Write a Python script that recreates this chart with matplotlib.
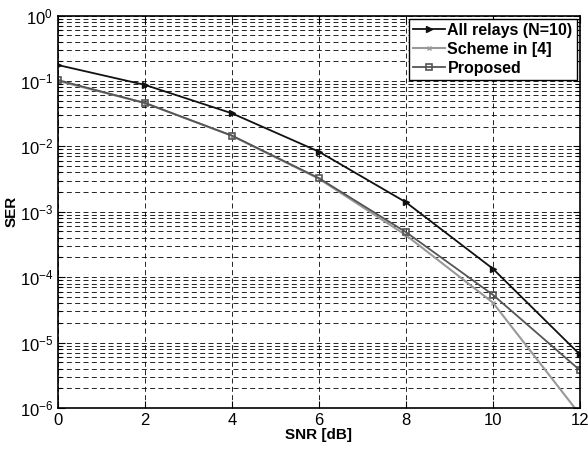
import numpy as np
import matplotlib
matplotlib.use("Agg")
import matplotlib.pyplot as plt
from matplotlib.ticker import LogLocator, NullFormatter

plt.rcParams['font.family'] = ['Liberation Sans', 'DejaVu Sans']
plt.rcParams['mathtext.fontset'] = 'custom'
plt.rcParams['mathtext.rm'] = 'Liberation Sans'

snr = [0, 2, 4, 6, 8, 10, 12]
ser_all = [0.175, 0.087, 0.032, 0.0083, 0.0014, 1.35e-4, 6.6e-6]
ser_scheme4 = [0.1, 0.046, 0.0145, 0.0032, 4.4e-4, 4.1e-5, 8e-7]
ser_prop = [0.103, 0.046, 0.0146, 0.00327, 4.9e-4, 5.4e-5, 3.8e-6]

fig = plt.figure(figsize=(5.88, 4.51), dpi=100)
ax = fig.add_axes([0.0986, 0.0953, 0.8874, 0.8703])

ax.semilogy(snr, ser_all, color='#111111', lw=1.3, marker='>', ms=5,
            mfc='#111111', label='All relays (N=10)')
ax.semilogy(snr, ser_scheme4, color='#999999', lw=1.5, marker='x', ms=2.5,
            label='Scheme in [4]')
ax.semilogy(snr, ser_prop, color='#555555', lw=1.3, marker='s', ms=5,
            mfc='none', mew=1.2, label='Proposed')

ax.set_xlim(0, 12)
ax.set_ylim(1e-6, 1)
ax.set_xticks(snr)
ax.yaxis.set_major_locator(LogLocator(base=10, numticks=10))
ax.yaxis.set_minor_locator(LogLocator(base=10, subs=np.arange(2, 10), numticks=20))
ax.yaxis.set_minor_formatter(NullFormatter())

ax.grid(True, which='major', color='k', ls=(0, (6, 4)), lw=0.6)
ax.grid(True, which='minor', axis='y', color='k', ls=(0, (6, 4)), lw=0.6)

ax.tick_params(which='both', direction='in', top=True, right=True,
               labelsize=12, width=0.8)
ax.tick_params(which='major', length=5)
ax.tick_params(which='minor', length=3)
for s in ax.spines.values():
    s.set_linewidth(1.2)

ax.set_xlabel('SNR [dB]', fontsize=11, fontweight='bold', labelpad=0)
ax.set_ylabel('SER', fontsize=11, fontweight='bold', labelpad=1)

leg = ax.legend(loc='upper right', prop={'weight': 'bold', 'size': 11.5},
                fancybox=False, framealpha=1, edgecolor='k', borderpad=0.25,
                handlelength=2.0, handletextpad=0.15, labelspacing=0.25,
                borderaxespad=0.2)
leg.get_frame().set_linewidth(1.0)

fig.savefig('out.png', dpi=100)
